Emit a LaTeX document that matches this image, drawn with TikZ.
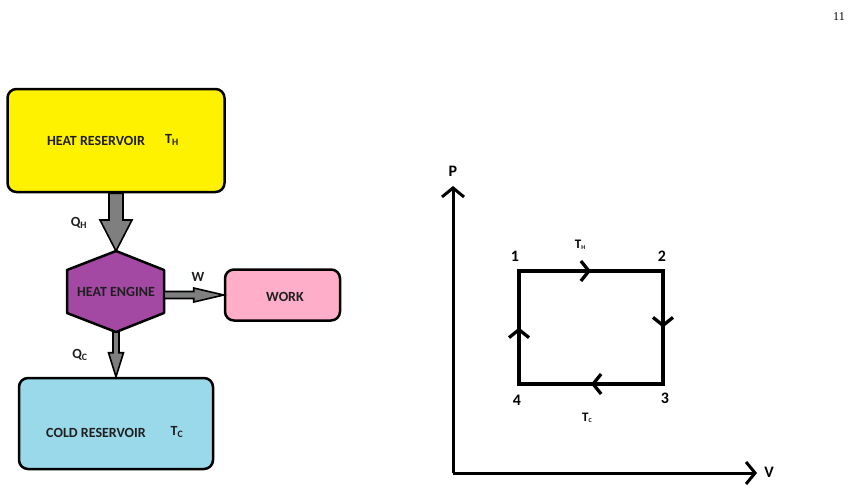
\documentclass[tikz,border=0pt]{standalone}
\usepackage{fontspec}
\setmainfont{Carlito}
\newfontfamily\pagefont{Liberation Serif}
\usetikzlibrary{calc,arrows.meta,decorations.markings}

\definecolor{hotyellow}{HTML}{FFF200}
\definecolor{enginepurple}{HTML}{A349A4}
\definecolor{workpink}{HTML}{FFAEC9}
\definecolor{coldblue}{HTML}{99D9EA}
\definecolor{flowgray}{HTML}{7F7F7F}

\begin{document}
\begin{tikzpicture}[x=1pt, y=-1pt,
        box/.style={draw=black, line width=2.5pt, rounded corners=9pt, inner sep=0pt},
        lbl/.style={font=\bfseries\fontsize{14}{16}\selectfont, text=black!88},
        pvlbl/.style={font=\bfseries\fontsize{16}{18}\selectfont},
        blockarrow/.style={draw=black, line width=1.6pt, fill=flowgray, line join=miter},
        axis/.style={line width=3pt, -{Straight Barb[length=9pt, width=22pt]}}
    ]
    \useasboundingbox (0,0) rectangle (854,496);
    \node[font=\pagefont\fontsize{12}{14}\selectfont] (page) at (839,17) {11};

    % heat engine part
    \node[box, fill=hotyellow, minimum width=217pt, minimum height=103pt] (hot) at (116,140.5) {};
    \node[lbl] (hotname) at (96,141) {HEAT RESERVOIR};
    \node[lbl] (hotT) at (172,140) {T\textsubscript{H}};

    \coordinate (engT) at (116,251);
    \coordinate (engB) at (116,332);
    \coordinate (engR) at (164,292);
    \draw[line width=2.5pt, fill=enginepurple, line join=round]
        (engT) -- (164,270) -- (164,313) -- (engB) -- (67,313) -- (67,270) -- cycle;
    \node[lbl] (engine) at (116,292) {HEAT ENGINE};

    \node[box, fill=workpink, minimum width=115pt, minimum height=51pt] (work) at (282.5,295) {};
    \node[lbl] (worktext) at (285,297) {WORK};

    \node[box, fill=coldblue, minimum width=194pt, minimum height=91pt] (cold) at (116,423.5) {};
    \node[lbl] (coldname) at (96,433) {COLD RESERVOIR};
    \node[lbl] (coldT) at (177,432) {T\textsubscript{C}};

    \draw[blockarrow] ($(hot.south)+(-7,0)$) -- ($(hot.south)+(7,0)$) -- ($(engT)+(7,-31)$)
        -- ($(engT)+(16,-31)$) -- (engT) -- ($(engT)+(-16,-31)$) -- ($(engT)+(-7,-31)$) -- cycle;
    \draw[blockarrow] ($(engR|-work.west)+(0,-3.5)$) -- ($(work.west)+(-30,-3.5)$) -- ($(work.west)+(-30,-7)$)
        -- (work.west) -- ($(work.west)+(-30,7)$) -- ($(work.west)+(-30,3.5)$) -- ($(engR|-work.west)+(0,3.5)$) -- cycle;
    \draw[blockarrow] ($(engB)+(-3,0)$) -- ($(engB)+(3,0)$) -- ($(cold.north)+(3,-24)$)
        -- ($(cold.north)+(7.5,-24)$) -- (cold.north) -- ($(cold.north)+(-7.5,-24)$) -- ($(cold.north)+(-3,-24)$) -- cycle;

    \node[lbl] (qh) at (79,223) {Q\textsubscript{H}};
    \node[lbl] (w) at (198,277) {W};
    \node[lbl] (qc) at (80,355) {Q\textsubscript{C}};

    % PV diagram
    \coordinate (o) at (453,473);
    \coordinate (ptip) at (453,186);
    \coordinate (vtip) at (757,473);
    \draw[axis] (o) -- (ptip);
    \draw[axis] (o) -- (vtip);
    \node[pvlbl] (p) at (453,171) {P};
    \node[pvlbl] (v) at (769,472) {V};

    \coordinate (c1) at (519,271);
    \coordinate (c2) at (663,271);
    \coordinate (c3) at (663,384);
    \coordinate (c4) at (519,384);
    \begin{scope}[line width=3.3pt, line cap=rect, decoration={
            markings,
            mark=at position 0.5 with {\arrow{Straight Barb[length=8pt, width=20pt]}}}
        ]
        \draw[postaction={decorate}] (c1) -- (c2);
        \draw[postaction={decorate}] (c2) -- (c3);
        \draw[postaction={decorate}] (c3) -- (c4);
        \draw[postaction={decorate}] (c4) -- (c1);
    \end{scope}

    \node[pvlbl] (n1) at (515,256) {1};
    \node[pvlbl] (n2) at (662,256) {2};
    \node[pvlbl] (n3) at (665,398) {3};
    \node[pvlbl] (n4) at (517,400) {4};
    \node[font=\bfseries\fontsize{13}{15}\selectfont] (th) at (580,245) {T{\fontsize{6}{6}\selectfont\raisebox{-1pt}{H}}};
    \node[font=\bfseries\fontsize{13}{15}\selectfont] (tc) at (587,418) {T{\fontsize{6}{6}\selectfont\raisebox{-1pt}{C}}};
\end{tikzpicture}
\end{document}
